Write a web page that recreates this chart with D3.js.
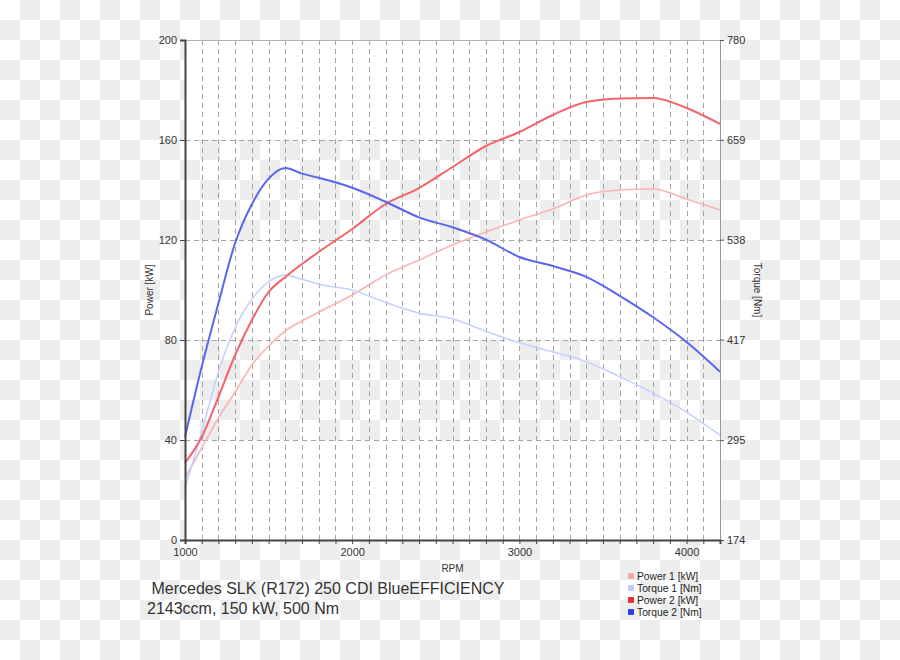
<!DOCTYPE html>
<html>
<head>
<meta charset="utf-8">
<script src="https://cdn.jsdelivr.net/npm/d3@7/dist/d3.min.js"></script>
<style>
  html, body { margin: 0; padding: 0; background: #fff; }
  svg { display: block; font-family: "Liberation Sans", Arial, sans-serif; }
</style>
</head>
<body>
<svg id="chart" width="900" height="660"></svg>
<script>
// ---- data ----
const rpm = [1000, 1100, 1200, 1300, 1400, 1500, 1600, 1700, 1800, 2000, 2200, 2400, 2600, 2800, 3000, 3200, 3400, 3600, 3800, 4000, 4200];
const power1 = [24.8, 36.8, 48.8, 59.2, 70, 77.6, 83.6, 87.6, 91.2, 98, 106, 112, 118, 123.2, 128, 132.4, 138, 140, 140.4, 136.4, 132];
const torque1 = [237, 305, 378, 431, 466, 487, 495, 490, 484, 477, 462, 449, 442, 427, 413, 402, 390, 372, 352, 329, 301];
const power2 = [30.8, 41.2, 57.2, 74, 88, 99.2, 105.2, 110.4, 115.2, 124.4, 134.4, 140.8, 149.2, 157.6, 163.2, 170, 175.2, 176.6, 176.8, 172.8, 166.4];
const torque2 = [299, 384, 461, 534, 581, 612, 625, 618, 613, 601, 584, 565, 553, 538, 517, 506, 493, 470, 444, 414, 378];
const powerTicks = [0, 40, 80, 120, 160, 200];
const torqueTicks = [174, 295, 417, 538, 659, 780];
const rpmLabels = [1000, 2000, 3000, 4000];
const rpmMinor = d3.range(1000, 4201, 100);
const seriesNames = ["Power 1 [kW]", "Torque 1 [Nm]", "Power 2 [kW]", "Torque 2 [Nm]"];
const titleLines = [" Mercedes SLK (R172) 250 CDI BlueEFFICIENCY", "2143ccm, 150 kW, 500 Nm"];

// ---- layout ----
const W = 900, H = 660;
const L = 185, R = 720, T = 40, B = 540;
const svg = d3.select("#chart");

// checkerboard background
const defs = svg.append("defs");
const pat = defs.append("pattern").attr("id", "chk").attr("width", 40).attr("height", 40).attr("patternUnits", "userSpaceOnUse");
pat.append("rect").attr("width", 40).attr("height", 40).attr("fill", "#ffffff");
pat.append("rect").attr("x", 20).attr("y", 0).attr("width", 20).attr("height", 20).attr("fill", "#ededed");
pat.append("rect").attr("x", 0).attr("y", 20).attr("width", 20).attr("height", 20).attr("fill", "#ededed");
svg.append("rect").attr("width", W).attr("height", H).attr("fill", "url(#chk)");

const x = d3.scaleLinear().domain([1000, 4200]).range([L, R]);
const yP = d3.scaleLinear().domain([0, 200]).range([B, T]);
const yT = d3.scaleLinear().domain([torqueTicks[0], torqueTicks[torqueTicks.length - 1]]).range([B, T]);

// white bands (alternating, starting from top)
const desc = powerTicks.slice().reverse();
for (let i = 0; i < desc.length - 1; i += 2) {
  svg.append("rect")
    .attr("x", L).attr("y", yP(desc[i]))
    .attr("width", R - L).attr("height", yP(desc[i + 1]) - yP(desc[i]))
    .attr("fill", "#ffffff");
}

// grid
const grid = svg.append("g").attr("stroke", "#a4a4a4").attr("stroke-width", 1).attr("stroke-dasharray", "5,4").attr("fill", "none");
grid.selectAll("line.v").data(rpmMinor.filter(d => d > 1000 && d < 4200)).join("line")
  .attr("x1", d => Math.round(x(d)) + 0.5).attr("x2", d => Math.round(x(d)) + 0.5)
  .attr("y1", T).attr("y2", B);
grid.selectAll("line.h").data(powerTicks.filter(d => d > 0 && d < 200)).join("line")
  .attr("x1", L).attr("x2", R)
  .attr("y1", d => Math.round(yP(d)) + 0.5).attr("y2", d => Math.round(yP(d)) + 0.5);

// frame top
svg.append("line").attr("x1", L).attr("x2", R).attr("y1", T + 0.5).attr("y2", T + 0.5).attr("stroke", "#b0b0b0");

// lines
const series = [
  { name: seriesNames[0], vals: power1, scale: yP, color: "#f9b4b6", w: 1.6, lg: "#f7a9ad" },
  { name: seriesNames[1], vals: torque1, scale: yT, color: "#c6d2fb", w: 1.6, lg: "#bccbfb" },
  { name: seriesNames[2], vals: power2, scale: yP, color: "#f4626a", w: 2, lg: "#ee2b36" },
  { name: seriesNames[3], vals: torque2, scale: yT, color: "#5b64ef", w: 2, lg: "#2f3df0" }
];
series.forEach(s => {
  const line = d3.line().x((d, i) => x(rpm[i])).y(d => s.scale(d)).curve(d3.curveMonotoneX);
  svg.append("path").attr("d", line(s.vals)).attr("fill", "none")
    .attr("stroke", s.color).attr("stroke-width", s.w).attr("stroke-linejoin", "round");
});

// axes
const fontSize = 11;
const axL = svg.append("g").attr("transform", `translate(${L},0)`)
  .call(d3.axisLeft(yP).tickValues(powerTicks).tickSize(5).tickPadding(3));
const axR = svg.append("g").attr("transform", `translate(${R},0)`)
  .call(d3.axisRight(yT).tickValues(torqueTicks).tickFormat(d3.format("d")).tickSize(4).tickPadding(3));
const axB = svg.append("g").attr("transform", `translate(0,${B})`)
  .call(d3.axisBottom(x).tickValues(rpmMinor).tickSize(4).tickFormat(d => rpmLabels.includes(d) ? d : "").tickPadding(4));

[axL, axB].forEach(a => {
  a.select(".domain").attr("stroke", "#444").attr("stroke-width", 2);
  a.selectAll(".tick line").attr("stroke", "#444");
});
axR.select(".domain").attr("stroke", "#999").attr("stroke-width", 1);
axR.selectAll(".tick line").attr("stroke", "#555");
[axL, axR, axB].forEach(a => {
  a.attr("font-family", "Liberation Sans, Arial, sans-serif");
  a.selectAll(".tick text").attr("font-size", fontSize).attr("fill", "#333");
});

// axis titles
svg.append("text").attr("x", (L + R) / 2).attr("y", 572).attr("text-anchor", "middle")
  .attr("font-size", 10).attr("fill", "#333").text("RPM");
svg.append("text").attr("transform", `translate(153,${(T + B) / 2}) rotate(-90)`).attr("text-anchor", "middle")
  .attr("font-size", 10).attr("fill", "#333").text("Power [kW]");
svg.append("text").attr("transform", `translate(754,${(T + B) / 2}) rotate(90)`).attr("text-anchor", "middle")
  .attr("font-size", 10).attr("fill", "#333").text("Torque [Nm]");

// legend
const lg = svg.append("g").attr("transform", "translate(628,576)");
series.forEach((s, i) => {
  lg.append("rect").attr("x", 0).attr("y", i * 12 - 3).attr("width", 6).attr("height", 6).attr("rx", 1)
    .attr("fill", s.lg);
  lg.append("text").attr("x", 9).attr("y", i * 12).attr("dy", "0.35em")
    .attr("font-size", 10.3).attr("fill", "#222").text(s.name);
});

// title
svg.append("text").attr("x", 147).attr("y", 594).attr("font-size", 16).attr("fill", "#333")
  .attr("xml:space", "preserve").style("white-space", "pre").text(titleLines[0]);
svg.append("text").attr("x", 147).attr("y", 614).attr("font-size", 16).attr("fill", "#333").text(titleLines[1]);
</script>
</body>
</html>
